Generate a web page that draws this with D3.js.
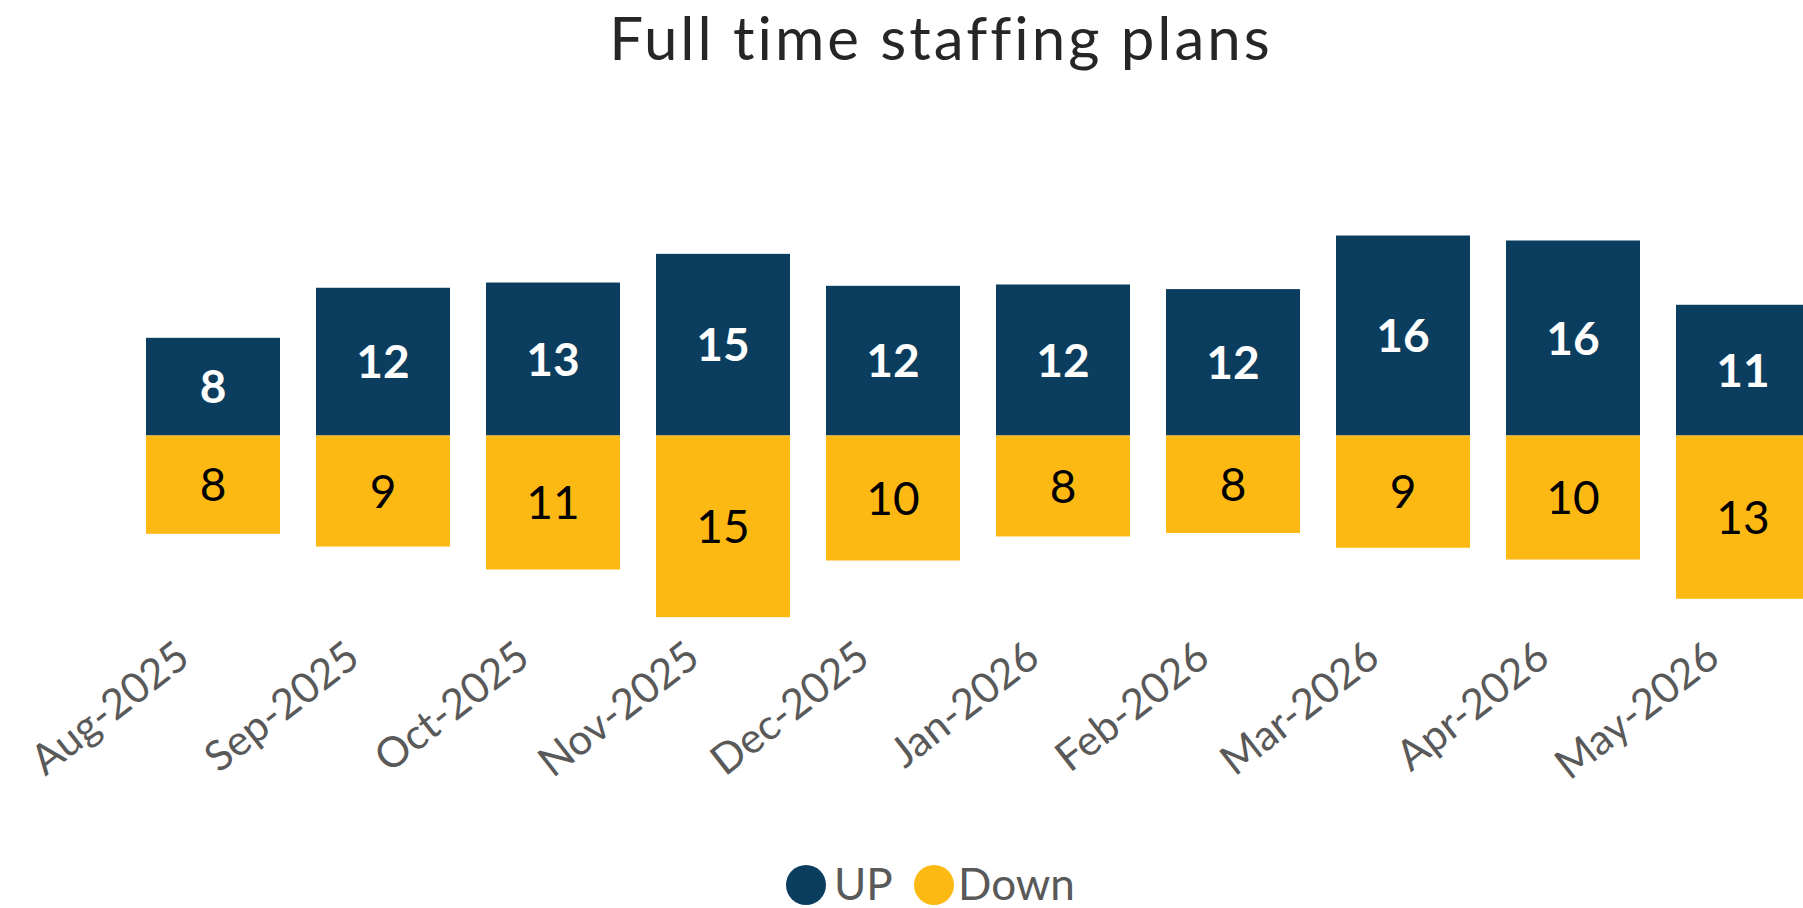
<!DOCTYPE html>
<html>
<head>
<meta charset="utf-8">
<script src="https://cdn.jsdelivr.net/npm/d3@7"></script>
<style>
  html, body { margin: 0; padding: 0; background: #ffffff; overflow: hidden; }
  svg { display: block; font-family: Lato, "Open Sans", sans-serif; font-variant-ligatures: none; }
  text { font-variant-ligatures: none; font-feature-settings: "liga" 0, "clig" 0; }
</style>
</head>
<body>
<svg id="chart" width="1803" height="908"></svg>
<script>
// ---- data ----
const months = ["Aug-2025","Sep-2025","Oct-2025","Nov-2025","Dec-2025","Jan-2026","Feb-2026","Mar-2026","Apr-2026","May-2026"];
const upValues   = [8.04, 12.16, 12.59, 14.95, 12.32, 12.43, 12.05, 16.46, 16.05, 10.76];
const downValues = [8.09, 9.14, 11.03, 14.95, 10.29, 8.31, 8.02, 9.24, 10.21, 13.44];
const seriesNames = ["UP", "Down"];
const seriesColors = ["#0B3D5E", "#FDB913"];
const titleText = "Full time staffing plans";

// ---- layout ----
const W = 1803, H = 908;
const svg = d3.select("#chart");

const x = d3.scaleBand()
  .domain(months)
  .range([128, 1828])
  .paddingInner(0.2118)
  .paddingOuter(0.1059);

const y = d3.scaleLinear()
  .domain([-20, 20])
  .range([678.5, 192.5]);

const rows = months.map((m, i) => ({ m, up: upValues[i], down: downValues[i] }));

// title
svg.append("text")
  .attr("x", 941)
  .attr("y", 60)
  .attr("text-anchor", "middle")
  .attr("font-size", 60)
  .attr("letter-spacing", 3)
  .attr("fill", "#262626")
  .text(titleText);

// up bars
svg.append("g").selectAll("rect")
  .data(rows).join("rect")
  .attr("x", d => x(d.m))
  .attr("width", x.bandwidth())
  .attr("y", d => y(d.up))
  .attr("height", d => y(0) - y(d.up))
  .attr("fill", seriesColors[0]);

// down bars
svg.append("g").selectAll("rect")
  .data(rows).join("rect")
  .attr("x", d => x(d.m))
  .attr("width", x.bandwidth())
  .attr("y", y(0))
  .attr("height", d => y(-d.down) - y(0))
  .attr("fill", seriesColors[1]);

// labels
svg.append("g").selectAll("text")
  .data(rows).join("text")
  .attr("x", d => x(d.m) + x.bandwidth() / 2)
  .attr("y", d => (y(d.up) + y(0)) / 2)
  .attr("dy", "0.36em")
  .attr("text-anchor", "middle")
  .attr("font-size", 46)
  .attr("font-weight", "bold")
  .attr("fill", "#ffffff")
  .text(d => Math.round(d.up));

svg.append("g").selectAll("text")
  .data(rows).join("text")
  .attr("x", d => x(d.m) + x.bandwidth() / 2)
  .attr("y", d => (y(-d.down) + y(0)) / 2)
  .attr("dy", "0.36em")
  .attr("text-anchor", "middle")
  .attr("font-size", 46)
  .attr("fill", "#000000")
  .text(d => Math.round(d.down));

// x axis
const axis = svg.append("g")
  .attr("transform", "translate(0,662)")
  .call(d3.axisBottom(x).tickSize(0).tickPadding(0));
axis.select(".domain").remove();
axis.selectAll("text")
  .attr("y", 0)
  .attr("dy", 0)
  .attr("text-anchor", "end")
  .attr("transform", "translate(-21,0) rotate(-38)")
  .attr("font-size", 42)
  .attr("font-family", "Lato, sans-serif")
  .attr("fill", "#595959");

// legend
const legendItems = [
  { name: seriesNames[0], color: seriesColors[0], cx: 806, tx: 834 },
  { name: seriesNames[1], color: seriesColors[1], cx: 934, tx: 958 }
];
const lg = svg.append("g");
lg.selectAll("circle").data(legendItems).join("circle")
  .attr("cx", d => d.cx).attr("cy", 885).attr("r", 20)
  .attr("fill", d => d.color);
lg.selectAll("text").data(legendItems).join("text")
  .attr("x", d => d.tx).attr("y", 900)
  .attr("font-size", 44)
  .attr("fill", "#595959")
  .text(d => d.name);
</script>
</body>
</html>
